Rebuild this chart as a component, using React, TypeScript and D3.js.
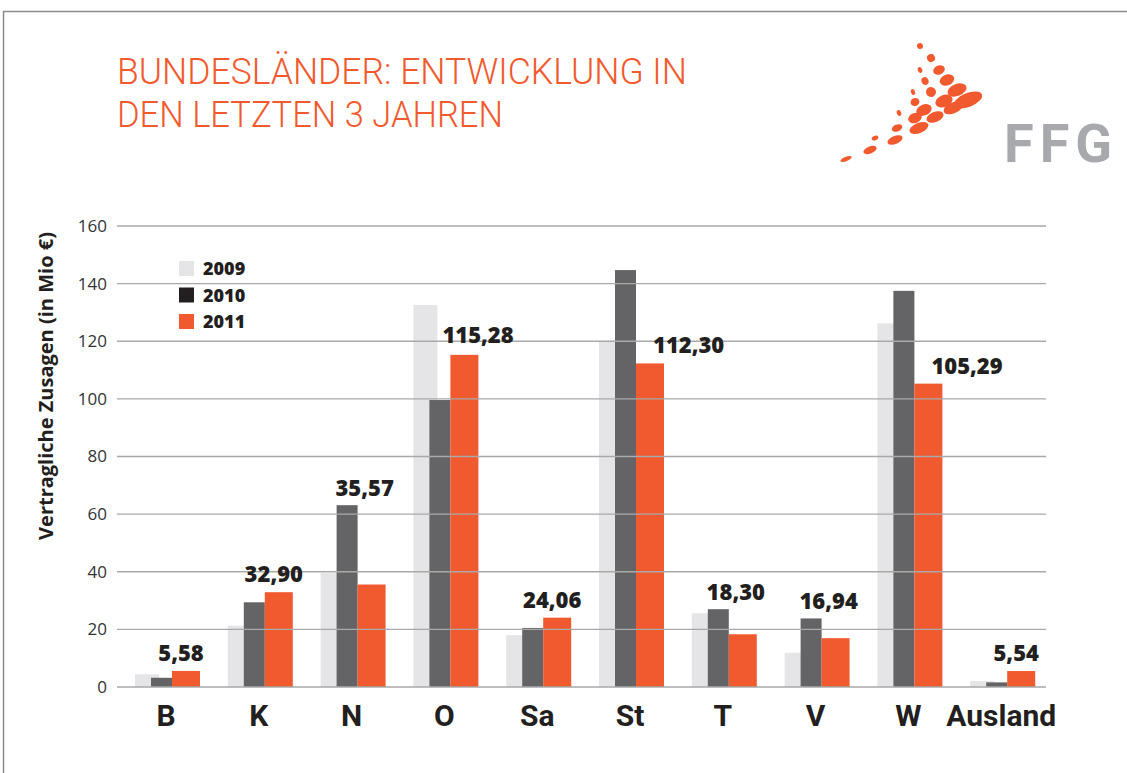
import React from "react";
import * as d3 from "d3";

const categories = ["B", "K", "N", "O", "Sa", "St", "T", "V", "W", "Ausland"];
const values2009 = [4.4, 21.3, 39.5, 132.6, 18.0, 120.2, 25.6, 11.9, 126.2, 2.1];
const values2010 = [3.2, 29.4, 63.1, 99.6, 20.5, 144.7, 27.0, 23.8, 137.5, 1.6];
const values2011 = [5.58, 32.9, 35.57, 115.28, 24.06, 112.3, 18.3, 16.94, 105.29, 5.54];
const years = ["2009", "2010", "2011"];
const yTicks = [0, 20, 40, 60, 80, 100, 120, 140, 160];

const titleLine1 = "BUNDESLÄNDER: ENTWICKLUNG IN";
const titleLine2 = "DEN LETZTEN 3 JAHREN";
const yAxisTitle = "Vertragliche Zusagen (in Mio €)";

const C_LIGHT = "#e5e5e7";
const C_DARK = "#646466";
const C_ORANGE = "#f15a2f";
const C_TEXT = "#231f20";
const legendColors = [C_LIGHT, C_TEXT, C_ORANGE];

// logo dots: cx, cy, rx, ry
const logoDots = [
  [920, 46, 3, 3], [931, 58, 4, 4], [939, 70, 6, 4.5], [920, 70, 2.2, 3],
  [947, 80, 7.5, 5.5], [925, 81, 3.5, 4], [957, 90, 10, 6], [931, 92, 5, 5],
  [913, 92, 2, 3], [968, 100, 15, 7], [944, 101, 9, 6], [915, 102, 4.5, 4],
  [953, 108, 10, 5.5], [924, 110, 8, 5.5], [899, 113, 2.2, 3], [935, 117, 9, 5],
  [915, 118, 7, 5], [919, 128, 10, 5], [897, 128, 5.5, 3.5], [895, 140, 8, 4],
  [875, 138, 3.5, 2.2], [870, 150, 7, 3.5], [846, 159, 6, 2.2],
];

const fmt = (v: number) => d3.format(".2f")(v).replace(".", ",");

export default function App() {
  const W = 1127;
  const H = 773;
  const x = d3.scaleBand<string>().domain(categories).range([120.6, 1048.6]).padding(0);
  const y = d3.scaleLinear().domain([0, 160]).range([687, 226]);
  const gridX0 = 117;
  const gridX1 = 1046;

  const center = (cat: string) => (x(cat) as number) + x.bandwidth() / 2;

  return (
    <svg width={W} height={H} style={{ position: "absolute", left: 0, top: 0, background: "#fff" }}>
      <rect x={0} y={0} width={W} height={H} fill="#fff" />
      <path d={`M3.5,${H} V11.5 H${W}`} fill="none" stroke="#8c8c8c" strokeWidth={1.5} />

      {/* Title */}
      <g fontFamily="Roboto" fontWeight={300} fill={C_ORANGE} fontSize={36}>
        <text x={117} y={84} textLength={570} lengthAdjust="spacingAndGlyphs">{titleLine1}</text>
        <text x={117} y={127} textLength={386} lengthAdjust="spacingAndGlyphs">{titleLine2}</text>
      </g>

      {/* Logo */}
      <g fill={C_ORANGE}>
        {logoDots.map((d, i) => (
          <ellipse key={i} cx={d[0]} cy={d[1]} rx={d[2]} ry={d[3]} transform={`rotate(-22 ${d[0]} ${d[1]})`} />
        ))}
      </g>
      <text x={1004} y={162} fontFamily="Roboto" fontWeight={700} fontSize={54} letterSpacing={6} fill="#a7a9ac">FFG</text>

      {/* Bars */}
      {categories.map((cat, i) => {
        const c = center(cat);
        return (
          <g key={cat}>
            <rect x={c - 32} y={y(values2009[i])} width={24} height={y(0) - y(values2009[i])} fill={C_LIGHT} />
            <rect x={c - 16} y={y(values2010[i])} width={21} height={y(0) - y(values2010[i])} fill={C_DARK} />
            <rect x={c + 5} y={y(values2011[i])} width={28} height={y(0) - y(values2011[i])} fill={C_ORANGE} />
          </g>
        );
      })}

      {/* Gridlines (drawn over bars) and tick labels */}
      {yTicks.map((t) => (
        <g key={t}>
          <line x1={gridX0} x2={gridX1} y1={y(t)} y2={y(t)} stroke="#a9a9a9" strokeWidth={1.4} />
          <text x={107} y={y(t)} dy="0.35em" textAnchor="end" fontFamily="Open Sans" fontSize={17} fill="#333">
            {t}
          </text>
        </g>
      ))}

      {/* Value labels for 2011 */}
      {categories.map((cat, i) => {
        const c = center(cat);
        const o = values2011[i];
        const d = values2010[i];
        const l = values2009[i];
        let tx = c + 14;
        let ty = y(o) - 10;
        let anchor: "middle" | "start" = "middle";
        if (d > o) {
          if (d - o < 30) {
            tx = c + 12;
            ty = y(d) - 9;
          } else {
            tx = c + 22;
            anchor = "start";
          }
        } else if (l > o) {
          tx = c - 3;
          anchor = "start";
          ty = y(o) - 12;
        }
        return (
          <text key={cat} x={tx} y={ty} textAnchor={anchor} fontFamily="Open Sans" fontWeight={800} fontSize={22} fill={C_TEXT}>
            {fmt(o)}
          </text>
        );
      })}

      {/* Category labels */}
      {categories.map((cat) => (
        <text key={cat} x={center(cat) - 1} y={726} textAnchor="middle" fontFamily="Roboto" fontWeight={700} fontSize={30} fill={C_TEXT}>
          {cat}
        </text>
      ))}

      {/* Y axis title */}
      <text
        transform="translate(53,386) rotate(-90)"
        textAnchor="middle"
        fontFamily="Open Sans"
        fontWeight={700}
        fontSize={20}
        fill={C_TEXT}
      >
        {yAxisTitle}
      </text>

      {/* Legend */}
      {years.map((yr, i) => (
        <g key={yr} transform={`translate(179,${261 + i * 26.5})`}>
          <rect x={0} y={0} width={15} height={15} fill={legendColors[i]} />
          <text x={24} y={14} fontFamily="Open Sans" fontWeight={800} fontSize={18} fill={C_TEXT}>
            {yr}
          </text>
        </g>
      ))}
    </svg>
  );
}
